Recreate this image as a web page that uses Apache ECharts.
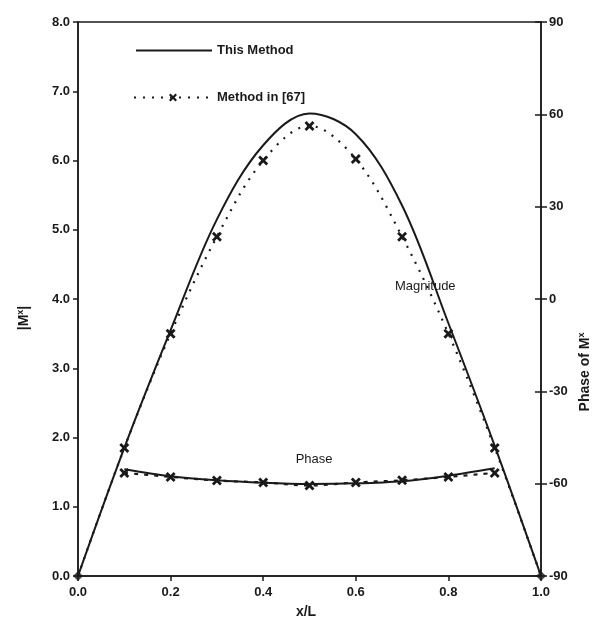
<!DOCTYPE html>
<html>
<head>
<meta charset="utf-8">
<script src="https://cdn.jsdelivr.net/npm/echarts@6/dist/echarts.min.js"></script>
<style>
  html, body { margin: 0; padding: 0; background: #fff; }
  #chart { width: 596px; height: 634px; }
</style>
</head>
<body>
<div id="chart"></div>
<script>
// Positions along the member, x/L
const xPos = [0, 0.1, 0.2, 0.3, 0.4, 0.5, 0.6, 0.7, 0.8, 0.9, 1.0];

// |M^x| from this method (solid) and from the method in [67] (dotted, x markers)
const magThis = [0, 1.85, 3.55, 5.15, 6.22, 6.68, 6.38, 5.35, 3.65, 1.88, 0];
const magRef  = [0, 1.85, 3.50, 4.90, 6.00, 6.50, 6.02, 4.90, 3.50, 1.85, 0];

// Phase of M^x in degrees, defined for interior points only
const xPhase     = [0.1, 0.2, 0.3, 0.4, 0.5, 0.6, 0.7, 0.8, 0.9];
const phaseThis  = [-55.3, -57.6, -58.9, -59.7, -60.1, -59.9, -59.2, -57.4, -55.0];
const phaseRef   = [-56.5, -57.8, -59.0, -59.6, -60.6, -59.6, -58.9, -57.8, -56.5];

const xTicks = [0, 0.2, 0.4, 0.6, 0.8, 1.0];

const FONT = 'Liberation Sans, Arial, sans-serif';
const INK = '#1a1a1a';
const CROSS = 'path://M0,2 L2,0 L5,3 L8,0 L10,2 L7,5 L10,8 L8,10 L5,7 L2,10 L0,8 L3,5 Z';

const pairs = (xs, ys) => xs.map((x, i) => [x, ys[i]]);
const last = xPos.length - 1;

const chart = echarts.init(document.getElementById('chart'), null, { renderer: 'canvas' });

const labelStyle = { color: INK, fontFamily: FONT, fontSize: 13, fontWeight: 'bold' };
const legendText = { color: INK, fontFamily: FONT, fontSize: 13, fontWeight: 'bold' };

const option = {
  animation: false,
  backgroundColor: '#fff',
  grid: { left: 78, right: 55, top: 22, bottom: 58, show: true, borderColor: INK, borderWidth: 1.5, backgroundColor: 'transparent' },
  legend: [
    {
      data: [{ name: 'This Method', icon: 'rect' }],
      left: 131, top: 39, itemWidth: 76, itemHeight: 2, itemGap: 3,
      itemStyle: { color: INK }, textStyle: legendText, selectedMode: false
    },
    {
      data: ['Method in [67]'], left: 128, top: 86, itemWidth: 78, itemHeight: 10, itemGap: 3,
      textStyle: legendText, selectedMode: false
    }
  ],
  xAxis: {
    type: 'value', min: 0, max: 1, interval: 0.2,
    axisLine: { show: true, lineStyle: { color: INK, width: 1.5 } },
    axisTick: { show: true, inside: false, length: 5, lineStyle: { color: INK, width: 1.5 } },
    axisLabel: Object.assign({ margin: 10, formatter: v => (xTicks.some(t => Math.abs(t - v) < 1e-9) ? v.toFixed(1) : '') }, labelStyle),
    splitLine: { show: false }
  },
  yAxis: [
    {
      type: 'value', min: 0, max: 8, interval: 1, position: 'left',
      axisLine: { show: true, lineStyle: { color: INK, width: 1.5 } },
      axisTick: { show: true, inside: false, length: 5, lineStyle: { color: INK, width: 1.5 } },
      axisLabel: Object.assign({ margin: 8, formatter: v => v.toFixed(1) }, labelStyle),
      splitLine: { show: false }
    },
    {
      type: 'value', min: -90, max: 90, interval: 30, position: 'right',
      axisLine: { show: true, lineStyle: { color: INK, width: 1.5 } },
      axisTick: { show: true, inside: false, length: 6, lineStyle: { color: INK, width: 1.5 } },
      axisLabel: Object.assign({ margin: 8 }, labelStyle),
      splitLine: { show: false }
    },
    {
      // inner half of the crossing ticks on the phase axis
      type: 'value', min: -90, max: 90, interval: 30, position: 'right',
      axisLine: { show: false },
      axisTick: { show: true, inside: true, length: 6, lineStyle: { color: INK, width: 1.5 } },
      axisLabel: { show: false },
      splitLine: { show: false }
    }
  ],
  series: [
    {
      name: 'This Method', type: 'line', yAxisIndex: 0, smooth: 0.35,
      data: pairs(xPos, magThis),
      symbol: 'none',
      itemStyle: { color: INK },
      lineStyle: { color: INK, width: 2 },
      z: 3
    },
    {
      // end supports of the member, where the moment vanishes
      type: 'scatter', yAxisIndex: 0,
      data: [[xPos[0], magThis[0]], [xPos[last], magThis[last]]],
      symbol: 'diamond', symbolSize: 10,
      itemStyle: { color: INK },
      z: 4
    },
    {
      name: 'Method in [67]', type: 'line', yAxisIndex: 0, smooth: 0.35,
      data: pairs(xPos, magRef),
      symbol: CROSS,
      symbolSize: (v, p) => (p.dataIndex === 0 || p.dataIndex === last ? 0 : 10),
      itemStyle: { color: INK },
      lineStyle: { color: INK, width: 2.2, type: [2, 7] },
      z: 2
    },
    {
      name: 'This Method', type: 'line', yAxisIndex: 1, smooth: 0.3,
      data: pairs(xPhase, phaseThis),
      symbol: 'none',
      itemStyle: { color: INK },
      lineStyle: { color: INK, width: 2 },
      z: 3
    },
    {
      name: 'Method in [67]', type: 'line', yAxisIndex: 1, smooth: 0.3,
      data: pairs(xPhase, phaseRef),
      symbol: CROSS, symbolSize: 10,
      itemStyle: { color: INK },
      lineStyle: { color: INK, width: 2.2, type: [4, 6] },
      z: 2
    }
  ]
};

chart.setOption(option);

// Curve annotations and axis titles, anchored to data coordinates
const magLabelAt = chart.convertToPixel({ xAxisIndex: 0, yAxisIndex: 0 }, [0.75, 4.18]);
const phaseLabelAt = chart.convertToPixel({ xAxisIndex: 0, yAxisIndex: 0 }, [0.51, 1.68]);

chart.setOption({
  graphic: [
    {
      type: 'text', x: magLabelAt[0], y: magLabelAt[1],
      style: { text: 'Magnitude', fill: INK, font: '13px ' + FONT, textAlign: 'center', textVerticalAlign: 'middle' }
    },
    {
      type: 'text', x: phaseLabelAt[0], y: phaseLabelAt[1],
      style: { text: 'Phase', fill: INK, font: '13px ' + FONT, textAlign: 'center', textVerticalAlign: 'middle' }
    },
    {
      type: 'text', x: 306, y: 612,
      style: { text: 'x/L', fill: INK, font: 'bold 14px ' + FONT, textAlign: 'center', textVerticalAlign: 'middle' }
    },
    {
      type: 'text', x: 24, y: 318, rotation: Math.PI / 2,
      style: {
        text: '|M{s|x}|',
        rich: { s: { fontSize: 9, fontWeight: 'bold', fontFamily: FONT, fill: INK, padding: [0, 0, 7, 0] } },
        fill: INK, font: 'bold 14px ' + FONT, textAlign: 'center', textVerticalAlign: 'middle'
      }
    },
    {
      type: 'text', x: 585, y: 372, rotation: Math.PI / 2,
      style: {
        text: 'Phase of M{s|x}',
        rich: { s: { fontSize: 9, fontWeight: 'bold', fontFamily: FONT, fill: INK, padding: [0, 0, 7, 0] } },
        fill: INK, font: 'bold 14px ' + FONT, textAlign: 'center', textVerticalAlign: 'middle'
      }
    }
  ]
});
</script>
</body>
</html>
